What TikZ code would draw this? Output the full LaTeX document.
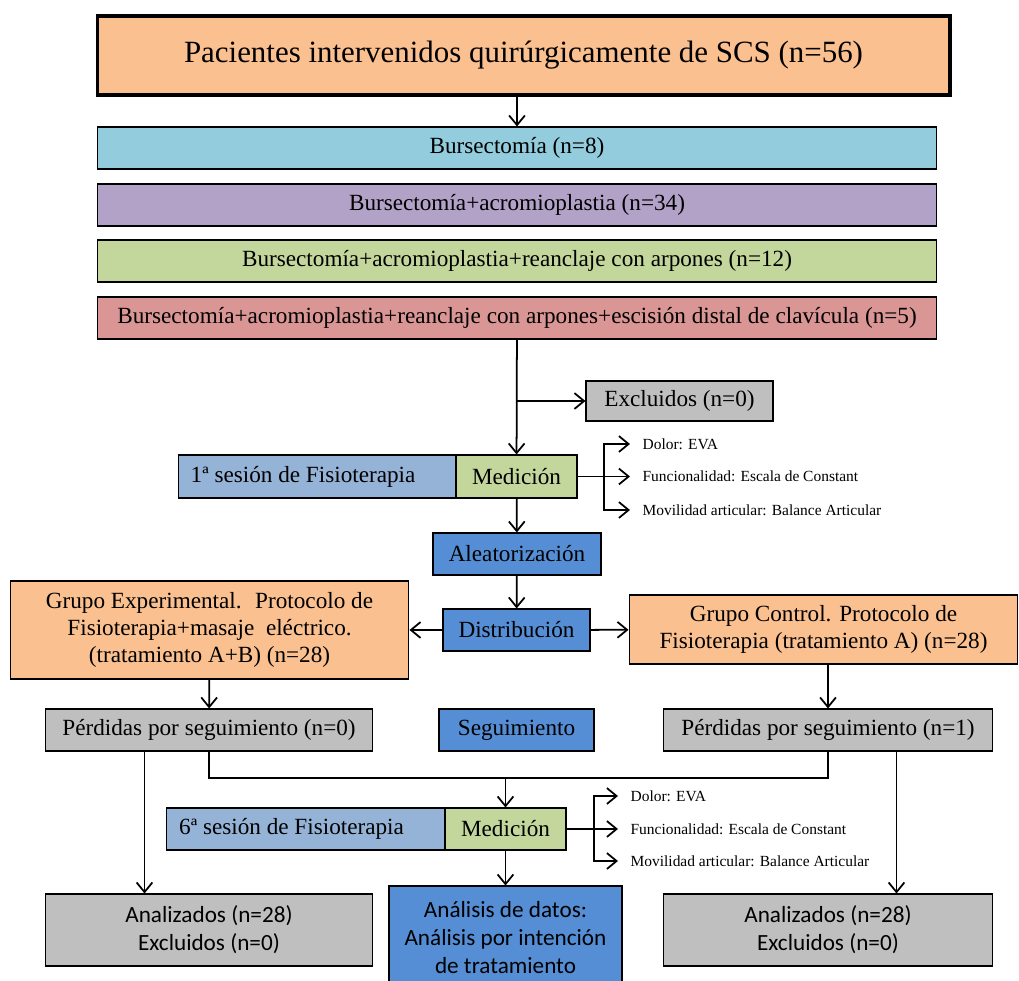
\documentclass[tikz,border=0pt]{standalone}
\usepackage{fontspec}
\setmainfont{Liberation Serif}
\newfontfamily\calibri{Carlito}
\usetikzlibrary{arrows.meta,calc}
\definecolor{peach}{HTML}{FAC090}
\definecolor{cyanb}{HTML}{93CDDD}
\definecolor{lilac}{HTML}{B3A2C7}
\definecolor{greenb}{HTML}{C3D69B}
\definecolor{redb}{HTML}{D99694}
\definecolor{greyb}{HTML}{BFBFBF}
\definecolor{sesb}{HTML}{95B3D7}
\definecolor{blueb}{HTML}{558ED5}
\begin{document}
\begin{tikzpicture}[x=0.02cm, y=-0.02cm, >={Straight Barb[length=5.5pt,width=9pt]},
  box/.style={draw, line width=0.6pt, inner sep=0pt, align=center, font=\fontsize{13.2}{15.5}\selectfont},
  calbox/.style={box, font=\calibri\fontsize{13.2}{16}\selectfont},
  note/.style={anchor=west, inner sep=7pt, font=\fontsize{8.8}{10}\selectfont},
  link/.style={line width=1pt}]
  \useasboundingbox (0,0) rectangle (1019,981);
  \node[box, fill=peach, line width=1.8pt, minimum width=17.06cm, minimum height=1.58cm, font=\fontsize{17.6}{20}\selectfont] (pac) at (523.5,55.5) {Pacientes intervenidos quirúrgicamente de SCS (n=56)};
  \node[box, fill=cyanb, minimum width=16.8cm, minimum height=0.84cm] (b1) at (517,148) {Bursectomía (n=8)};
  \node[box, fill=lilac, minimum width=16.8cm, minimum height=0.84cm] (b2) at (517,205) {Bursectomía+acromioplastia (n=34)};
  \node[box, fill=greenb, minimum width=16.8cm, minimum height=0.84cm] (b3) at (517,261) {Bursectomía+acromioplastia+reanclaje con arpones (n=12)};
  \node[box, fill=redb, minimum width=16.8cm, minimum height=0.84cm] (b4) at (517,318) {Bursectomía+acromioplastia+reanclaje con arpones+escisión distal de clavícula (n=5)};
  \node[box, fill=greyb, minimum width=3.74cm, minimum height=0.8cm] (exc) at (679.5,401) {Excluidos (n=0)};
  \node[box, fill=sesb, minimum width=5.56cm, minimum height=0.86cm] (s1) at (317,476.5) {1ª sesión de Fisioterapia\hspace{1.2em}};
  \node[box, fill=greenb, minimum width=2.42cm, minimum height=0.86cm] (m1) at (516.5,476.5) {Medición};
  \coordinate (f1) at (604,476.5);
  \node[note] (d1) at (630,444) {Dolor: EVA};
  \node[note] (c1) at (630,476.5) {Funcionalidad: Escala de Constant};
  \node[note] (a1) at (630,510) {Movilidad articular: Balance Articular};
  \node[box, fill=blueb, minimum width=3.36cm, minimum height=0.84cm] (ale) at (517,554) {Aleatorización};
  \node[box, fill=blueb, minimum width=2.94cm, minimum height=0.84cm] (dis) at (516.5,630) {Distribución};
  \node[box, fill=peach, minimum width=7.98cm, minimum height=1.96cm] (gexp) at (209.5,630) {Grupo Experimental.~ Protocolo de\\Fisioterapia+masaje~ eléctrico.\\(tratamiento A+B) (n=28)};
  \node[box, fill=peach, minimum width=7.78cm, minimum height=1.38cm] (gctl) at (823.5,629.5) {Grupo Control. Protocolo de\\Fisioterapia (tratamiento A) (n=28)};
  \node[box, fill=greyb, minimum width=6.56cm, minimum height=0.84cm] (perd1) at (209,730) {Pérdidas por seguimiento (n=0)};
  \node[box, fill=blueb, minimum width=3.1cm, minimum height=0.84cm] (seg) at (516.5,730) {Seguimiento};
  \node[box, fill=greyb, minimum width=6.6cm, minimum height=0.84cm] (perd2) at (828,730) {Pérdidas por seguimiento (n=1)};
  \coordinate (mj) at (505.5,778);
  \node[box, fill=sesb, minimum width=5.58cm, minimum height=0.84cm] (s6) at (305.5,829) {6ª sesión de Fisioterapia\hspace{1.2em}};
  \node[box, fill=greenb, minimum width=2.42cm, minimum height=0.84cm] (m6) at (505.5,829) {Medición};
  \coordinate (f6) at (594,829);
  \node[note] (d6) at (618,796) {Dolor: EVA};
  \node[note] (c6) at (618,829) {Funcionalidad: Escala de Constant};
  \node[note] (a6) at (618,861) {Movilidad articular: Balance Articular};
  \node[calbox, fill=greyb, minimum width=6.56cm, minimum height=1.44cm] (an1) at (209,930) {Analizados (n=28)\\Excluidos (n=0)};
  \node[calbox, fill=blueb, minimum width=4.66cm, minimum height=2.06cm] (dat) at (505.5,937.5) {Análisis de datos:\\Análisis por intención\\de tratamiento};
  \node[calbox, fill=greyb, minimum width=6.6cm, minimum height=1.44cm] (an2) at (828,930) {Analizados (n=28)\\Excluidos (n=0)};
  \draw[link,->] (b1.north |- pac.south) -- (b1);
  \draw[link,->] (b4) -- (m1);
  \draw[link,->] (m1.north |- exc) -- (exc);
  \draw[link] (m1) -- (f1);
  \draw[link,->] (f1) |- (d1);
  \draw[link,->] (f1) -- (c1);
  \draw[link,->] (f1) |- (a1);
  \draw[link,->] (m1) -- (ale);
  \draw[link,->] (ale) -- (dis);
  \draw[link,->] (dis) -- (gexp);
  \draw[link,->] (dis) -- (gctl);
  \draw[link,->] (gexp) -- (perd1);
  \draw[link,->] (gctl.south -| perd2) -- (perd2);
  \draw[link] (perd1) |- (mj) -| (perd2);
  \draw[link,->] (mj) -- (m6);
  \draw[link,->] ($(perd1.south west)+(100,0)$) -- ($(an1.north west)+(100,0)$);
  \draw[link,->] ($(perd2.south west)+(234,0)$) -- ($(an2.north west)+(234,0)$);
  \draw[link] (m6) -- (f6);
  \draw[link,->] (f6) |- (d6);
  \draw[link,->] (f6) -- (c6);
  \draw[link,->] (f6) |- (a6);
  \draw[link,->] (m6) -- (dat);
\end{tikzpicture}
\end{document}
